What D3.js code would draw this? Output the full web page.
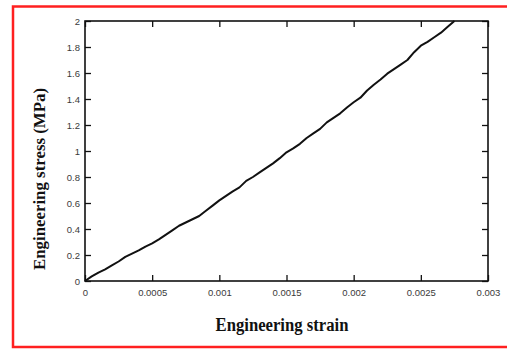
<!DOCTYPE html>
<html><head><meta charset="utf-8">
<script src="https://cdn.jsdelivr.net/npm/d3@7"></script>
<style>html,body{margin:0;padding:0;background:#fff;}svg{display:block;}</style>
</head><body>
<script>
const strain = [0,0.00005,0.0001,0.00015,0.0002,0.00025,0.0003,0.00035,0.0004,0.00045,0.0005,0.00055,0.0006,0.00065,0.0007,0.00075,0.0008,0.00085,0.0009,0.00095,0.001,0.00105,0.0011,0.00115,0.0012,0.00125,0.0013,0.00135,0.0014,0.00145,0.0015,0.00155,0.0016,0.00165,0.0017,0.00175,0.0018,0.00185,0.0019,0.00195,0.002,0.00205,0.0021,0.00215,0.0022,0.00225,0.0023,0.00235,0.0024,0.00245,0.0025,0.00255,0.0026,0.00265,0.0027,0.00275];
const stress = [0,0.035,0.065,0.09,0.12,0.15,0.185,0.21,0.235,0.265,0.29,0.32,0.355,0.39,0.425,0.45,0.475,0.5,0.54,0.58,0.62,0.655,0.69,0.72,0.77,0.8,0.835,0.87,0.905,0.945,0.99,1.02,1.055,1.1,1.135,1.17,1.22,1.255,1.29,1.335,1.375,1.41,1.465,1.51,1.55,1.595,1.63,1.665,1.7,1.76,1.81,1.84,1.875,1.91,1.955,2.0];
const xTicks = [0,0.0005,0.001,0.0015,0.002,0.0025,0.003];
const xTickLabels = ["0","0.0005","0.001","0.0015","0.002","0.0025","0.003"];
const yTicks = [0,0.2,0.4,0.6,0.8,1,1.2,1.4,1.6,1.8,2];
const yTickLabels = ["0","0.2","0.4","0.6","0.8","1","1.2","1.4","1.6","1.8","2"];
const xTitle = "Engineering strain";
const yTitle = "Engineering stress (MPa)";

const W = 507, H = 349;
const L = 85, R = 488, T = 21, B = 281;
const svg = d3.select("body").append("svg").attr("width", W).attr("height", H);

svg.append("rect").attr("x", 13).attr("y", 6.5).attr("width", 510).attr("height", 340.5)
  .attr("fill", "none").attr("stroke", "#ff2020").attr("stroke-width", 2.5);

const x = d3.scaleLinear().domain([0, 0.003]).range([L, R]);
const y = d3.scaleLinear().domain([0, 2]).range([B, T]);
const tl = 6;
const fmtX = (d, i) => xTickLabels[i];
const fmtY = (d, i) => yTickLabels[i];

function styleAxis(g) {
  g.select(".domain").remove();
  g.selectAll(".tick line").attr("stroke", "#111").attr("stroke-width", 1.3);
  g.selectAll(".tick text").attr("fill", "#3a3a3a").attr("font-family", "Liberation Sans, Arial, sans-serif").attr("font-size", 9.5);
}
svg.append("g").attr("transform", `translate(0,${B})`)
  .call(d3.axisBottom(x).tickValues(xTicks).tickFormat(fmtX).tickSizeInner(-tl).tickSizeOuter(0).tickPadding(8))
  .call(styleAxis);
svg.append("g").attr("transform", `translate(0,${T})`)
  .call(d3.axisTop(x).tickValues(xTicks).tickFormat("").tickSizeInner(-tl).tickSizeOuter(0))
  .call(styleAxis);
svg.append("g").attr("transform", `translate(${L},0)`)
  .call(d3.axisLeft(y).tickValues(yTicks).tickFormat(fmtY).tickSizeInner(-tl).tickSizeOuter(0).tickPadding(5))
  .call(styleAxis);
svg.append("g").attr("transform", `translate(${R},0)`)
  .call(d3.axisRight(y).tickValues(yTicks).tickFormat("").tickSizeInner(-tl).tickSizeOuter(0))
  .call(styleAxis);

svg.append("rect").attr("x", L).attr("y", T).attr("width", R - L).attr("height", B - T)
  .attr("fill", "none").attr("stroke", "#111").attr("stroke-width", 1.6);

const pts = strain.map((s, i) => [s, stress[i]]);
svg.append("path").datum(pts)
  .attr("d", d3.line().x(d => x(d[0])).y(d => y(d[1])))
  .attr("fill", "none").attr("stroke", "#111").attr("stroke-width", 2).attr("stroke-linejoin", "round");

svg.append("text").attr("x", 282).attr("y", 331).attr("text-anchor", "middle")
  .attr("font-family", "Liberation Serif, Times New Roman, serif").attr("font-weight", "bold")
  .attr("font-size", 18).attr("textLength", 133).attr("lengthAdjust", "spacingAndGlyphs")
  .attr("fill", "#111").text(xTitle);

svg.append("text").attr("transform", "translate(45,179) rotate(-90)").attr("text-anchor", "middle")
  .attr("font-family", "Liberation Serif, Times New Roman, serif").attr("font-weight", "bold")
  .attr("font-size", 17).attr("textLength", 182).attr("lengthAdjust", "spacingAndGlyphs")
  .attr("fill", "#111").text(yTitle);
</script>
</body></html>
